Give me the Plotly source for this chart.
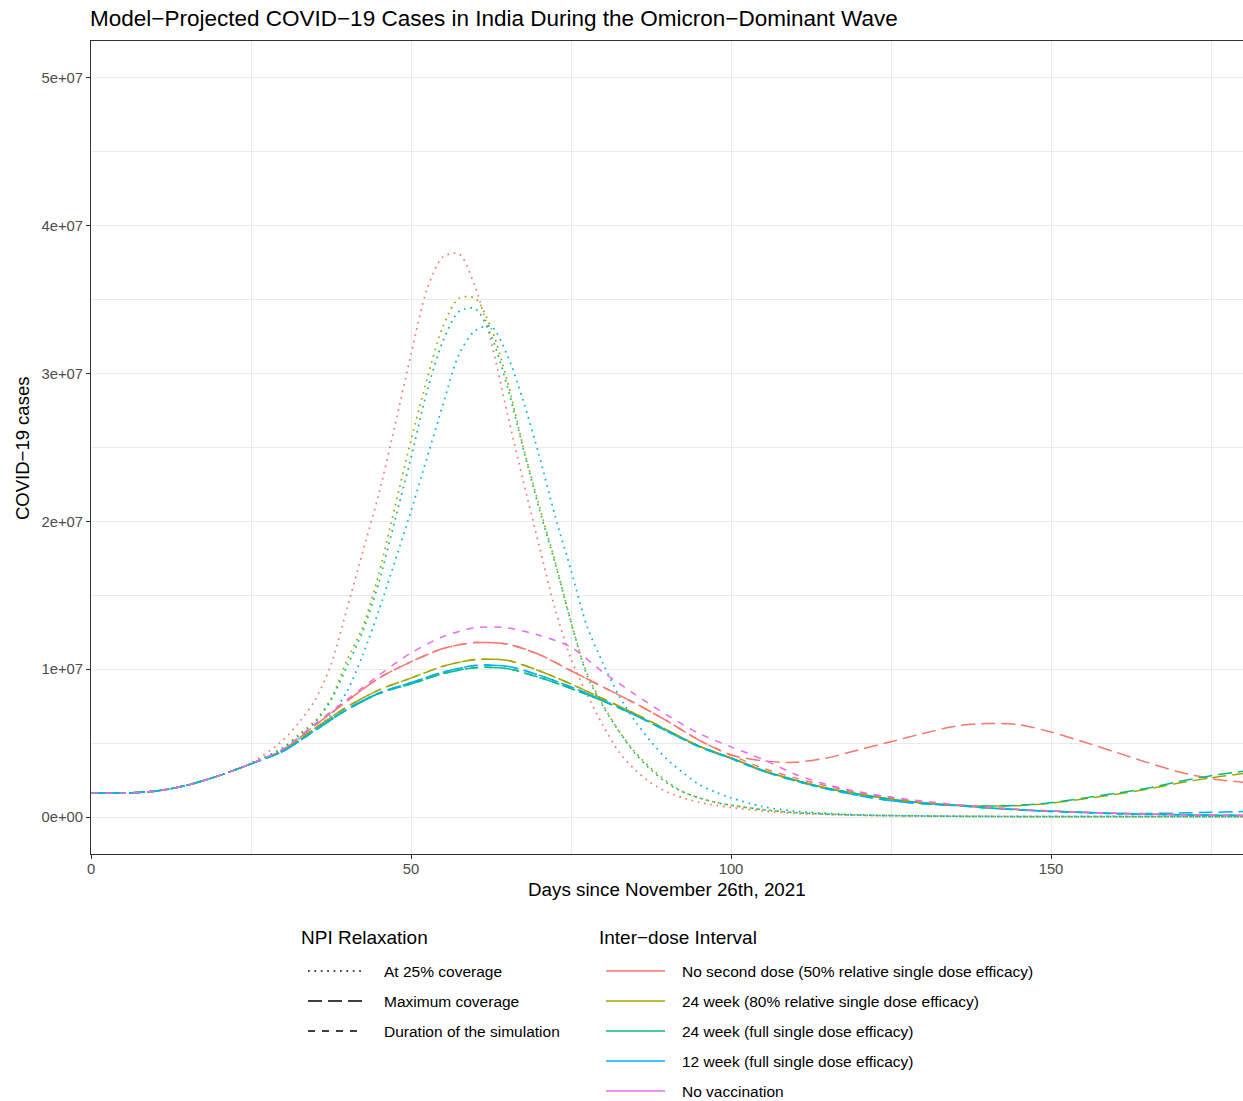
import plotly.graph_objects as go

# ---------------------------------------------------------------------------
# Data: projected daily COVID-19 cases (millions) by scenario
# ---------------------------------------------------------------------------
DAYS_DOT = [0, 5, 10, 15, 20, 25, 30, 32.5, 35, 37.5, 40, 42.5, 45, 47.5, 50,
            52.5, 55, 57.5, 60, 62.5, 65, 67.5, 70, 72.5, 75, 77.5, 80, 82.5,
            85, 87.5, 90, 92.5, 95, 97.5, 100, 105, 110, 120, 130, 140, 150,
            160, 170, 180]

# NPI relaxation at 25% coverage (dotted)
no_second_25 = [1.62, 1.62, 1.75, 2.15, 2.8, 3.65, 5.2, 6.4, 7.9, 10.3, 14.1,
                18.0, 21.9, 26.5, 31.3, 35.7, 37.9, 38.1, 35.9, 32.2, 27.4,
                22.8, 18.4, 14.1, 10.7, 8.3, 6.2, 4.4, 3.2, 2.3, 1.7, 1.3, 1.0,
                0.8, 0.65, 0.4, 0.25, 0.12, 0.07, 0.04, 0.03, 0.03, 0.03, 0.03]
wk24_80_25 = [1.62, 1.62, 1.75, 2.15, 2.8, 3.62, 4.7, 5.6, 6.5, 8.0, 10.6,
              12.9, 16.5, 21.0, 25.5, 29.6, 33.2, 35.1, 35.1, 33.1, 29.6, 25.1,
              21.1, 17.3, 13.2, 9.7, 7.6, 5.8, 4.4, 3.3, 2.4, 1.7, 1.3, 1.0,
              0.8, 0.5, 0.3, 0.13, 0.07, 0.04, 0.03, 0.03, 0.03, 0.03]
wk24_full_25 = [1.62, 1.62, 1.75, 2.15, 2.8, 3.62, 4.65, 5.5, 6.4, 7.9, 10.2,
                12.6, 15.9, 20.1, 24.3, 28.8, 32.2, 34.2, 34.4, 32.6, 29.2,
                25.0, 20.9, 17.2, 13.2, 9.6, 7.5, 5.8, 4.3, 3.2, 2.3, 1.7, 1.3,
                1.0, 0.8, 0.5, 0.3, 0.13, 0.07, 0.04, 0.03, 0.03, 0.03, 0.03]
wk12_full_25 = [1.62, 1.62, 1.75, 2.15, 2.8, 3.6, 4.6, 5.3, 6.0, 6.9, 8.5,
                11.0, 14.0, 17.3, 20.7, 24.3, 27.9, 31.3, 32.9, 33.2, 31.3,
                28.2, 24.5, 20.4, 16.7, 12.9, 10.4, 8.2, 6.5, 5.1, 3.9, 3.0,
                2.2, 1.7, 1.3, 0.7, 0.4, 0.15, 0.08, 0.05, 0.04, 0.04, 0.04, 0.04]

DAYS = [0, 5, 10, 15, 20, 25, 30, 35, 40, 45, 50, 55, 60, 65, 70, 75, 80, 85,
        90, 95, 100, 105, 110, 115, 120, 125, 130, 135, 140, 145, 150, 155,
        160, 165, 170, 175, 180]

# NPI relaxation at maximum coverage (long dash)
no_second_max = [1.62, 1.62, 1.75, 2.15, 2.8, 3.6, 4.55, 6.2, 7.85, 9.4, 10.5,
                 11.4, 11.8, 11.7, 11.0, 9.9, 8.8, 7.7, 6.5, 5.2, 4.2, 3.8, 3.7,
                 4.0, 4.55, 5.1, 5.65, 6.15, 6.33, 6.25, 5.75, 5.1, 4.4, 3.7,
                 3.05, 2.6, 2.35]
wk24_80_max = [1.62, 1.62, 1.75, 2.15, 2.8, 3.6, 4.5, 6.0, 7.45, 8.6, 9.4, 10.2,
               10.65, 10.6, 9.9, 9.0, 8.0, 7.0, 5.9, 4.8, 4.0, 3.15, 2.5, 1.95,
               1.55, 1.2, 0.95, 0.8, 0.74, 0.77, 0.93, 1.22, 1.53, 1.88, 2.3,
               2.65, 2.95]
wk24_full_max = [1.62, 1.62, 1.75, 2.15, 2.8, 3.6, 4.45, 5.85, 7.25, 8.35, 9.0,
                 9.7, 10.1, 10.05, 9.45, 8.7, 7.85, 6.9, 5.85, 4.8, 4.0, 3.15,
                 2.5, 1.95, 1.55, 1.2, 0.95, 0.8, 0.75, 0.8, 0.97, 1.28, 1.6,
                 1.95, 2.4, 2.8, 3.1]
wk12_full_max = [1.62, 1.62, 1.75, 2.15, 2.8, 3.6, 4.45, 5.9, 7.3, 8.4, 9.1,
                 9.8, 10.25, 10.2, 9.6, 8.8, 7.9, 6.9, 5.8, 4.75, 3.95, 3.1,
                 2.45, 1.9, 1.45, 1.1, 0.9, 0.78, 0.62, 0.48, 0.38, 0.3, 0.24,
                 0.24, 0.27, 0.32, 0.37]

# NPIs kept for the duration of the simulation (short dash)
no_second_dur = [1.62, 1.62, 1.75, 2.15, 2.8, 3.6, 4.55, 6.2, 7.85, 9.4, 10.5,
                 11.4, 11.8, 11.7, 11.0, 9.9, 8.8, 7.7, 6.5, 5.2, 4.2, 3.3,
                 2.65, 2.1, 1.65, 1.3, 1.0, 0.82, 0.65, 0.5, 0.4, 0.32, 0.25,
                 0.2, 0.16, 0.13, 0.11]
wk24_80_dur = [1.62, 1.62, 1.75, 2.15, 2.8, 3.6, 4.5, 6.0, 7.45, 8.6, 9.4, 10.2,
               10.65, 10.6, 9.9, 9.0, 8.0, 7.0, 5.9, 4.8, 4.0, 3.15, 2.5, 1.95,
               1.55, 1.2, 0.95, 0.8, 0.62, 0.5, 0.4, 0.32, 0.25, 0.2, 0.16,
               0.13, 0.11]
wk24_full_dur = [1.62, 1.62, 1.75, 2.15, 2.8, 3.6, 4.45, 5.85, 7.25, 8.35, 9.0,
                 9.7, 10.1, 10.05, 9.45, 8.7, 7.85, 6.9, 5.85, 4.8, 4.0, 3.15,
                 2.5, 1.95, 1.55, 1.2, 0.95, 0.8, 0.62, 0.5, 0.4, 0.32, 0.25,
                 0.2, 0.16, 0.13, 0.11]
wk12_full_dur = [1.62, 1.62, 1.75, 2.15, 2.8, 3.6, 4.45, 5.9, 7.3, 8.4, 9.1,
                 9.8, 10.25, 10.2, 9.6, 8.8, 7.9, 6.9, 5.8, 4.75, 3.95, 3.1,
                 2.45, 1.9, 1.45, 1.1, 0.9, 0.78, 0.62, 0.48, 0.38, 0.3, 0.22,
                 0.18, 0.15, 0.12, 0.1]
no_vacc_dur = [1.62, 1.62, 1.75, 2.15, 2.8, 3.62, 4.6, 6.3, 7.95, 9.6, 11.1,
               12.2, 12.8, 12.8, 12.3, 11.5, 9.8, 8.3, 6.9, 5.65, 4.75, 3.9,
               2.9, 2.2, 1.7, 1.35, 1.08, 0.85, 0.68, 0.53, 0.42, 0.33, 0.26,
               0.2, 0.16, 0.13, 0.11]

INTERVALS = ["No second dose (50% relative single dose efficacy)",
             "24 week (80% relative single dose efficacy)",
             "24 week (full single dose efficacy)",
             "12 week (full single dose efficacy)",
             "No vaccination"]
NPI_LEVELS = ["At 25% coverage", "Maximum coverage", "Duration of the simulation"]

Y_TICKS = [0, 1e7, 2e7, 3e7, 4e7, 5e7]
Y_TICK_TEXT = ["0e+00", "1e+07", "2e+07", "3e+07", "4e+07", "5e+07"]
X_TICKS = [0, 50, 100, 150]
X_TICK_TEXT = ["0", "50", "100", "150"]

# ---------------------------------------------------------------------------
# Styling
# ---------------------------------------------------------------------------
COLORS = ["#F8766D", "#A3A500", "#00BF7D", "#00B0F6", "#E76BF3"]
DASHES = {"At 25% coverage": "1.7px,4.7px",
          "Maximum coverage": "14px,6px",
          "Duration of the simulation": "7px,7px"}
WIDTHS = {"At 25% coverage": 1.7,
          "Maximum coverage": 1.5,
          "Duration of the simulation": 1.5}
FONT = "Liberation Sans, Arial, sans-serif"

W, H = 1243, 1101
L, R, T, B = 91, 0, 41, 247
PW, PH = W - L - R, H - T - B


def px(x):
    return (x - L) / PW


def py(y):
    return (H - B - y) / PH


series = [
    (DAYS_DOT, no_second_25, 0, NPI_LEVELS[0]),
    (DAYS_DOT, wk24_80_25, 1, NPI_LEVELS[0]),
    (DAYS_DOT, wk24_full_25, 2, NPI_LEVELS[0]),
    (DAYS_DOT, wk12_full_25, 3, NPI_LEVELS[0]),
    (DAYS, no_second_max, 0, NPI_LEVELS[1]),
    (DAYS, wk24_80_max, 1, NPI_LEVELS[1]),
    (DAYS, wk24_full_max, 2, NPI_LEVELS[1]),
    (DAYS, wk12_full_max, 3, NPI_LEVELS[1]),
    (DAYS, no_second_dur, 0, NPI_LEVELS[2]),
    (DAYS, wk24_80_dur, 1, NPI_LEVELS[2]),
    (DAYS, wk24_full_dur, 2, NPI_LEVELS[2]),
    (DAYS, wk12_full_dur, 3, NPI_LEVELS[2]),
    (DAYS, no_vacc_dur, 4, NPI_LEVELS[2]),
]

fig = go.Figure()
for days, vals, ci, npi in series:
    fig.add_trace(go.Scatter(
        x=days, y=[v * 1e6 for v in vals], mode="lines",
        name=f"{INTERVALS[ci]} – {npi}", showlegend=False,
        line=dict(color=COLORS[ci], width=WIDTHS[npi], dash=DASHES[npi],
                  shape="spline", smoothing=0.8),
        hoverinfo="x+y+name",
    ))

shapes = []
annotations = []
LEG_FONT = dict(size=15.5, color="#000000", family=FONT)
LEG_TITLE_FONT = dict(size=19, color="#000000", family=FONT)

# Legend: NPI Relaxation (line types)
annotations.append(dict(x=px(299), y=py(937), xref="paper", yref="paper",
                        text="NPI Relaxation", showarrow=False,
                        xanchor="left", yanchor="middle", font=LEG_TITLE_FONT))
for i, lvl in enumerate(NPI_LEVELS):
    yy = 971 + 30 * i
    shapes.append(dict(type="line", xref="paper", yref="paper",
                       x0=px(308), x1=px(364), y0=py(yy), y1=py(yy),
                       line=dict(color="#000000", width=1.6, dash=DASHES[lvl])))
    annotations.append(dict(x=px(382), y=py(yy), xref="paper", yref="paper",
                            text=lvl, showarrow=False, xanchor="left",
                            yanchor="middle", font=LEG_FONT))

# Legend: Inter-dose Interval (colours)
annotations.append(dict(x=px(597), y=py(937), xref="paper", yref="paper",
                        text="Inter\u2212dose Interval", showarrow=False,
                        xanchor="left", yanchor="middle", font=LEG_TITLE_FONT))
for i, lab in enumerate(INTERVALS):
    yy = 971 + 30 * i
    shapes.append(dict(type="line", xref="paper", yref="paper",
                       x0=px(606), x1=px(665), y0=py(yy), y1=py(yy),
                       line=dict(color=COLORS[i], width=1.6)))
    annotations.append(dict(x=px(680), y=py(yy), xref="paper", yref="paper",
                            text=lab, showarrow=False, xanchor="left",
                            yanchor="middle", font=LEG_FONT))

# Axis titles
annotations.append(dict(x=px(667), y=py(889), xref="paper", yref="paper",
                        text="Days since November 26th, 2021", showarrow=False,
                        xanchor="center", yanchor="middle",
                        font=dict(size=18.8, color="#000000", family=FONT)))
annotations.append(dict(x=px(22), y=py(449), xref="paper", yref="paper",
                        text="COVID\u221219 cases", showarrow=False,
                        textangle=-90, xanchor="center", yanchor="middle",
                        font=dict(size=18.5, color="#000000", family=FONT)))

fig.update_layout(
    width=W, height=H,
    margin=dict(l=L, r=R, t=T, b=B, pad=0),
    paper_bgcolor="white", plot_bgcolor="white",
    font=dict(family=FONT),
    title=dict(text="Model\u2212Projected COVID\u221219 Cases in India During the Omicron\u2212Dominant Wave",
               x=(L - 1) / W, xanchor="left", xref="container",
               y=1 - 18 / H, yanchor="middle",
               font=dict(size=22.5, color="#000000", family=FONT)),
    shapes=shapes, annotations=annotations, showlegend=False,
)

fig.update_xaxes(
    range=[0, 180], tickmode="array", tickvals=X_TICKS, ticktext=X_TICK_TEXT,
    ticks="outside", ticklen=4, tickwidth=1.1, tickcolor="#333333",
    ticklabelstandoff=-3,
    tickfont=dict(size=14.8, color="#4D4D4D", family=FONT),
    showgrid=True, gridcolor="#EBEBEB", gridwidth=1.2,
    minor=dict(tickmode="linear", tick0=25, dtick=50, showgrid=True,
               gridcolor="#EBEBEB", gridwidth=0.6, ticks=""),
    showline=True, linecolor="#333333", linewidth=1.1, mirror=True,
    zeroline=False,
)
fig.update_yaxes(
    range=[-2.5e6, 5.25e7], tickmode="array", tickvals=Y_TICKS,
    ticktext=Y_TICK_TEXT,
    ticks="outside", ticklen=4, tickwidth=1.1, tickcolor="#333333",
    tickfont=dict(size=14.8, color="#4D4D4D", family=FONT),
    showgrid=True, gridcolor="#EBEBEB", gridwidth=1.2,
    minor=dict(tickmode="linear", tick0=5e6, dtick=1e7, showgrid=True,
               gridcolor="#EBEBEB", gridwidth=0.6, ticks=""),
    showline=True, linecolor="#333333", linewidth=1.1, mirror=False,
    zeroline=False,
)

fig.write_html("out.html")
